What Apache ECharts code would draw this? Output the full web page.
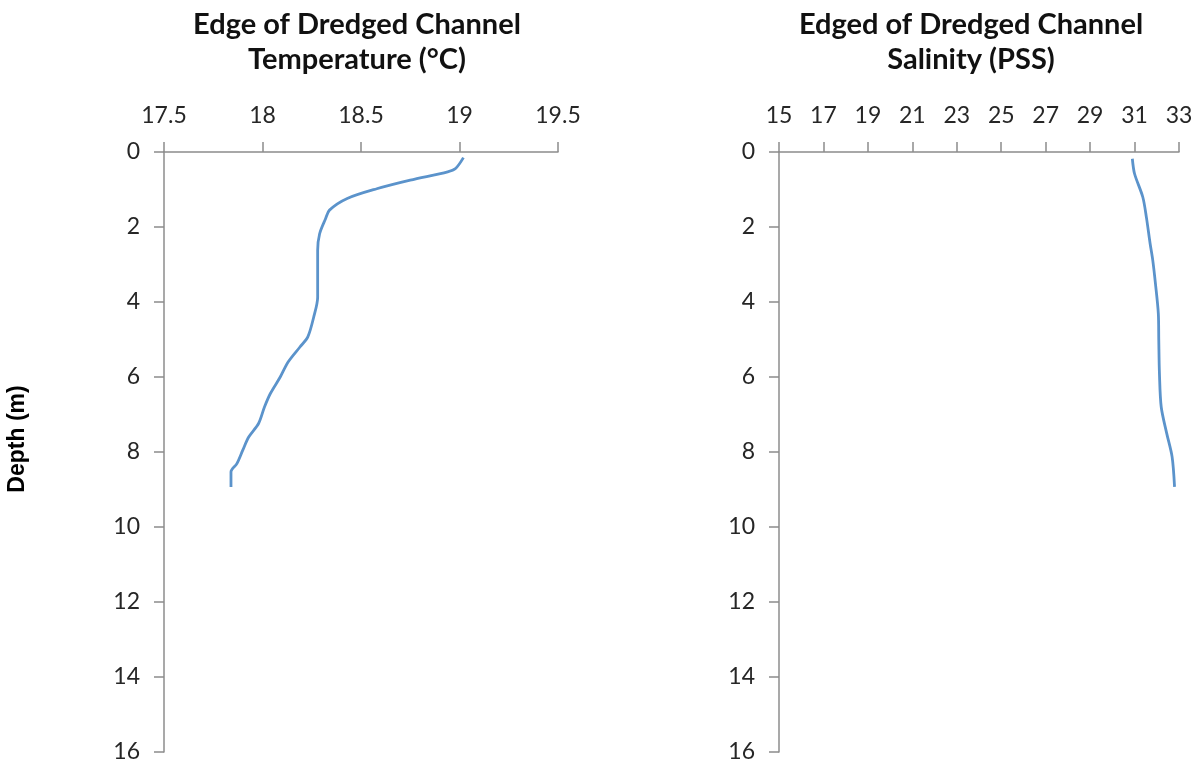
<!DOCTYPE html>
<html>
<head>
<meta charset="utf-8">
<script src="https://cdn.jsdelivr.net/npm/echarts@6/dist/echarts.min.js"></script>
<style>
  html, body { margin: 0; padding: 0; background: #fff; }
  #main { width: 1202px; height: 764px; }
</style>
</head>
<body>
<div id="main"></div>
<script>
// depth profiles
var tempDepth = [0.15, 0.44, 0.53, 0.75, 0.98, 1.24, 1.55, 1.78, 2.18, 2.62, 3.24, 3.87, 4.4, 4.93, 5.2, 5.6, 6.0, 6.44, 6.8, 7.24, 7.6, 7.95, 8.31, 8.53, 8.93];
var tempValues = [19.02, 18.98, 18.94, 18.75, 18.58, 18.43, 18.34, 18.32, 18.29, 18.28, 18.28, 18.28, 18.26, 18.23, 18.19, 18.13, 18.09, 18.04, 18.01, 17.98, 17.93, 17.90, 17.87, 17.84, 17.84];

var salDepth = [0.18, 0.58, 1.2, 1.73, 2.44, 2.89, 3.51, 4.31, 5.02, 5.91, 6.8, 7.51, 8.13, 8.93];
var salValues = [30.9, 31.0, 31.37, 31.53, 31.7, 31.82, 31.94, 32.07, 32.09, 32.12, 32.2, 32.45, 32.69, 32.8];

var depthTicks = [0, 2, 4, 6, 8, 10, 12, 14, 16];

var myChart = echarts.init(document.getElementById('main'));

var font = 'Lato, "Noto Sans", sans-serif';
var axisGray = '#8c8c8c';
var lineColor = '#5b93cb';

function pairs(xs, ys) {
  return xs.map(function (v, i) { return [v, ys[i]]; });
}

function xAxisCfg(grid, min, max, interval) {
  return {
    type: 'value', gridIndex: grid, position: 'top',
    min: min, max: max, interval: interval,
    axisLine: { show: true, lineStyle: { color: axisGray, width: 1.5 } },
    axisTick: { show: true, inside: false, length: 10, lineStyle: { color: axisGray, width: 1.5 } },
    axisLabel: { color: '#262626', fontSize: 23, fontFamily: font, margin: 25 },
    splitLine: { show: false }
  };
}

function yAxisCfg(grid) {
  return {
    type: 'value', gridIndex: grid, inverse: true,
    min: depthTicks[0], max: depthTicks[depthTicks.length - 1], interval: 2,
    axisLine: { show: true, lineStyle: { color: axisGray, width: 1.5 } },
    axisTick: { show: true, length: 10, lineStyle: { color: axisGray, width: 1.5 } },
    axisLabel: { color: '#262626', fontSize: 23, fontFamily: font, margin: 24 },
    splitLine: { show: false }
  };
}

var titleStyle = { fontSize: 29, fontWeight: 'bold', fontFamily: font, color: '#111', lineHeight: 35, align: 'center' };

var option = {
  backgroundColor: '#fff',
  animation: false,
  title: [
    {
      text: 'Edge of Dredged Channel\nTemperature (°C)',
      left: 352, top: 2, textAlign: 'center',
      textStyle: titleStyle
    },
    {
      text: 'Edged of Dredged Channel\nSalinity (PSS)',
      left: 966, top: 2, textAlign: 'center',
      textStyle: titleStyle
    }
  ],
  grid: [
    { left: 164, top: 152, width: 394, height: 600, outerBoundsMode: 'none', containLabel: false },
    { left: 779, top: 152, width: 400, height: 600, outerBoundsMode: 'none', containLabel: false }
  ],
  graphic: [{
    type: 'text', x: 18, y: 439, rotation: Math.PI / 2,
    style: {
      text: 'Depth (m)', fill: '#000', align: 'center', verticalAlign: 'middle',
      font: 'bold 23px "Liberation Sans", Arial, sans-serif'
    }
  }],
  xAxis: [
    xAxisCfg(0, 17.5, 19.5, 0.5),
    xAxisCfg(1, 15, 33, 2)
  ],
  yAxis: [
    yAxisCfg(0),
    yAxisCfg(1)
  ],
  series: [
    {
      type: 'line', xAxisIndex: 0, yAxisIndex: 0,
      data: pairs(tempValues, tempDepth),
      showSymbol: false, smooth: 0.3,
      lineStyle: { color: lineColor, width: 2.8 }
    },
    {
      type: 'line', xAxisIndex: 1, yAxisIndex: 1,
      data: pairs(salValues, salDepth),
      showSymbol: false, smooth: 0.3,
      lineStyle: { color: lineColor, width: 2.8 }
    }
  ]
};

myChart.setOption(option);
</script>
</body>
</html>
